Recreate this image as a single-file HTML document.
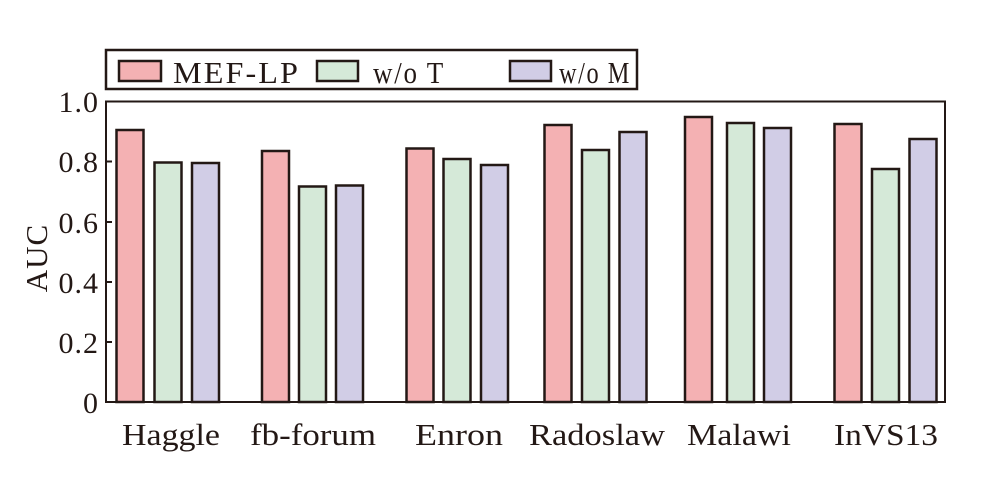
<!DOCTYPE html>
<html><head><meta charset="utf-8"><style>body{margin:0;background:#fff}svg{display:block}text{font-family:"Liberation Serif",serif;fill:#231815}</style></head><body>
<svg width="986" height="491" viewBox="0 0 986 491" xmlns="http://www.w3.org/2000/svg">
<g stroke="#231815" stroke-width="2.5">
<rect x="106" y="50" width="531" height="39" fill="#fff"/>
<rect x="119" y="61" width="42" height="20" fill="#f4b1b3"/>
<rect x="317" y="61" width="41" height="20" fill="#d5e9d8"/>
<rect x="510" y="61" width="41" height="20" fill="#d1cde6"/>
</g>
<text x="173" y="83" font-size="31" letter-spacing="2" textLength="127" lengthAdjust="spacingAndGlyphs">MEF-LP</text>
<text x="373" y="83" font-size="31" letter-spacing="2" textLength="72" lengthAdjust="spacingAndGlyphs">w/o T</text>
<text x="559" y="83" font-size="31" letter-spacing="2" textLength="72" lengthAdjust="spacingAndGlyphs">w/o M</text>
<rect x="106" y="101.5" width="839" height="300.5" fill="#fff" stroke="#231815" stroke-width="2"/>
<g stroke="#231815" stroke-width="2.5">
<rect x="116.5" y="130" width="27" height="272" fill="#f4b1b3"/>
<rect x="154.5" y="162.5" width="27" height="239.5" fill="#d5e9d8"/>
<rect x="192" y="163" width="27" height="239" fill="#d1cde6"/>
<rect x="262" y="151" width="27" height="251" fill="#f4b1b3"/>
<rect x="299" y="186.5" width="27" height="215.5" fill="#d5e9d8"/>
<rect x="336" y="185.5" width="27" height="216.5" fill="#d1cde6"/>
<rect x="406.5" y="148.5" width="27" height="253.5" fill="#f4b1b3"/>
<rect x="443.5" y="159" width="27" height="243" fill="#d5e9d8"/>
<rect x="481" y="165" width="27" height="237" fill="#d1cde6"/>
<rect x="544.5" y="125" width="27" height="277" fill="#f4b1b3"/>
<rect x="582" y="150" width="27" height="252" fill="#d5e9d8"/>
<rect x="619.5" y="132" width="27" height="270" fill="#d1cde6"/>
<rect x="685" y="117" width="27" height="285" fill="#f4b1b3"/>
<rect x="727" y="123" width="27" height="279" fill="#d5e9d8"/>
<rect x="764" y="128" width="27" height="274" fill="#d1cde6"/>
<rect x="834.5" y="124" width="27" height="278" fill="#f4b1b3"/>
<rect x="872" y="169" width="27" height="233" fill="#d5e9d8"/>
<rect x="909.5" y="139" width="27" height="263" fill="#d1cde6"/>
</g>
<g stroke="#231815" stroke-width="2">
<line x1="106" y1="342" x2="112" y2="342"/><line x1="106" y1="282" x2="112" y2="282"/>
<line x1="106" y1="222" x2="112" y2="222"/><line x1="106" y1="161.5" x2="112" y2="161.5"/>
</g>
<g font-size="30" text-anchor="end" letter-spacing="1">
<text x="99" y="413">0</text><text x="99" y="353">0.2</text><text x="99" y="293">0.4</text>
<text x="99" y="233">0.6</text><text x="99" y="172">0.8</text><text x="99" y="112">1.0</text>
</g>
<text transform="translate(47,258) rotate(-90)" font-size="31" text-anchor="middle" letter-spacing="1">AUC</text>
<g font-size="31" text-anchor="middle">
<text x="171" y="445" textLength="98" lengthAdjust="spacingAndGlyphs">Haggle</text>
<text x="313" y="445" textLength="126" lengthAdjust="spacingAndGlyphs">fb-forum</text>
<text x="459" y="445" textLength="88" lengthAdjust="spacingAndGlyphs">Enron</text>
<text x="597" y="445" textLength="136" lengthAdjust="spacingAndGlyphs">Radoslaw</text>
<text x="739" y="445" textLength="104" lengthAdjust="spacingAndGlyphs">Malawi</text>
<text x="886" y="445" textLength="104" lengthAdjust="spacingAndGlyphs">InVS13</text>
</g>
</svg>
</body></html>
